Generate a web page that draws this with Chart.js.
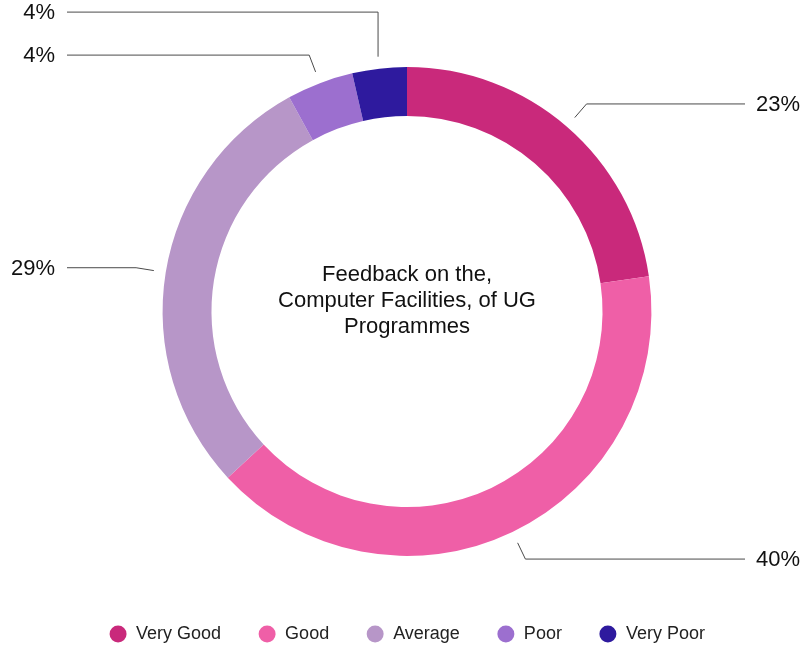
<!DOCTYPE html>
<html>
<head>
<meta charset="utf-8">
<script src="https://cdn.jsdelivr.net/npm/chart.js@4.4.1/dist/chart.umd.min.js"></script>
<style>
  html, body { margin: 0; padding: 0; background: #ffffff; }
  #wrap { width: 804px; height: 648px; }
</style>
</head>
<body>
<div id="wrap"><canvas id="c" width="804" height="648"></canvas></div>
<script>
const categories = ["Very Good", "Good", "Average", "Poor", "Very Poor"];
const values = [22.7, 40.4, 28.9, 4.4, 3.6];
const sliceColors = ["#c9297b", "#ef5fa7", "#b796c8", "#9c6fcf", "#2e1a9e"];
const centerTitleLines = ["Feedback on the,", "Computer Facilities, of UG", "Programmes"];

const FONT = "'Liberation Sans', Arial, Helvetica, sans-serif";

const calloutPlugin = {
  id: 'calloutLabels',
  afterDatasetsDraw(chart) {
    const ctx = chart.ctx;
    const meta = chart.getDatasetMeta(0);
    const data = chart.data.datasets[0].data;
    const total = data.reduce((s, v) => s + v, 0);
    const W = chart.width;
    const items = meta.data.map((arc, i) => {
      const p = arc.getProps(['x', 'y', 'startAngle', 'endAngle', 'outerRadius'], true);
      const a = (p.startAngle + p.endAngle) / 2;
      const r0 = p.outerRadius + 12, r1 = p.outerRadius + 30;
      const p0 = { x: p.x + Math.cos(a) * r0, y: p.y + Math.sin(a) * r0 };
      const p1 = { x: p.x + Math.cos(a) * r1, y: p.y + Math.sin(a) * r1 };
      return { i, p0, p1, right: Math.cos(a) >= 0, ly: p1.y, moved: false };
    });
    const MIN_GAP = 43;
    [true, false].forEach(side => {
      const list = items.filter(it => it.right === side).sort((a, b) => b.ly - a.ly);
      for (let k = 1; k < list.length; k++) {
        if (list[k - 1].ly - list[k].ly < MIN_GAP) {
          list[k].ly = list[k - 1].ly - MIN_GAP;
          list[k].moved = true;
        }
      }
    });
    ctx.save();
    ctx.strokeStyle = '#4a4a4a';
    ctx.lineWidth = 1;
    ctx.font = '22px ' + FONT;
    ctx.fillStyle = '#111111';
    ctx.textBaseline = 'middle';
    items.forEach(it => {
      const edgeX = it.right ? W - 59 : 67;
      ctx.beginPath();
      ctx.moveTo(it.p0.x, it.p0.y);
      if (it.moved) {
        ctx.lineTo(it.p0.x, it.ly);
      } else {
        ctx.lineTo(it.p1.x, it.ly);
      }
      ctx.lineTo(edgeX, it.ly);
      ctx.stroke();
      const txt = Math.round(data[it.i] / total * 100) + '%';
      if (it.right) {
        ctx.textAlign = 'left';
        ctx.fillText(txt, edgeX + 11, it.ly + 1);
      } else {
        ctx.textAlign = 'right';
        ctx.fillText(txt, edgeX - 12, it.ly + 1);
      }
    });
    ctx.restore();
  }
};

const centerTextPlugin = {
  id: 'centerText',
  afterDatasetsDraw(chart) {
    const ctx = chart.ctx;
    const arc = chart.getDatasetMeta(0).data[0];
    const cx = arc.x, cy = arc.y;
    const lh = 26;
    ctx.save();
    ctx.font = '22px ' + FONT;
    ctx.fillStyle = '#111111';
    ctx.textAlign = 'center';
    ctx.textBaseline = 'alphabetic';
    const n = centerTitleLines.length;
    centerTitleLines.forEach((line, k) => {
      ctx.fillText(line, cx, cy - 5 + (k - (n - 1) / 2) * lh);
    });
    ctx.restore();
  }
};

new Chart(document.getElementById('c'), {
  type: 'doughnut',
  data: {
    labels: categories,
    datasets: [{
      data: values,
      backgroundColor: sliceColors,
      borderWidth: 0,
      hoverOffset: 0,
      radius: '88.4%',
      cutout: '80%'
    }]
  },
  options: {
    responsive: false,
    animation: false,
    layout: { padding: { left: 10, right: 0, top: 35, bottom: -5 } },
    plugins: {
      tooltip: { enabled: false },
      legend: {
        position: 'bottom',
        labels: {
          usePointStyle: true,
          pointStyle: 'circle',
          boxWidth: 18,
          boxHeight: 12,
          padding: 37,
          color: '#222222',
          font: { size: 18, family: FONT }
        }
      }
    }
  },
  plugins: [calloutPlugin, centerTextPlugin]
});
</script>
</body>
</html>
